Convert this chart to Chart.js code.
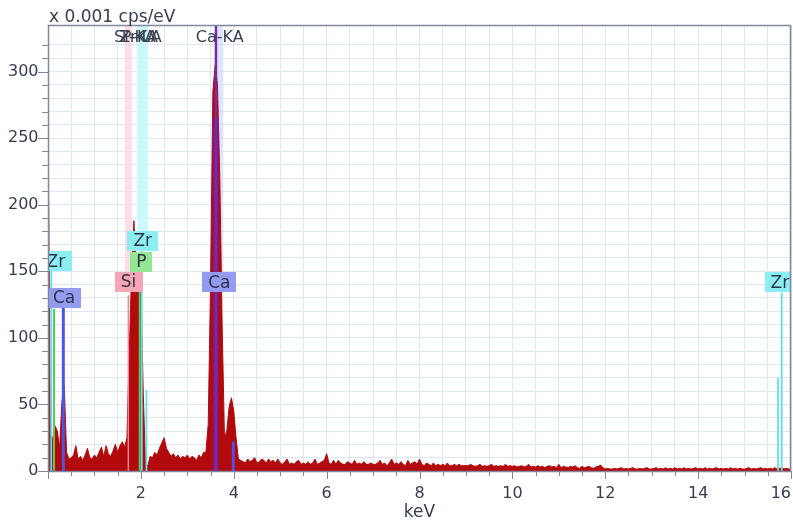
<!DOCTYPE html>
<html>
<head>
<meta charset="utf-8">
<script src="https://cdn.jsdelivr.net/npm/chart.js@4.4.1/dist/chart.umd.min.js"></script>
<style>
html,body{margin:0;padding:0;background:#ffffff;}
#wrap{width:793px;height:523px;position:relative;}
</style>
</head>
<body>
<div id="wrap"><canvas id="c" width="793" height="523"></canvas></div>
<script>
// ---------- data ----------
const xTickLabels = [2, 4, 6, 8, 10, 12, 14, 16];
const yTickLabels = [0, 50, 100, 150, 200, 250, 300];
const yUnitLabel = 'x 0.001 cps/eV';
const xUnitLabel = 'keV';

// spectrum channels every 0.05 keV from 0.00 to 16.00 keV (one row per keV)
const spectrumStepKeV = 0.05;
const spectrumCounts = [
  273,28,24,34,30,17,52,64,14,9, 10,12,19,9,11,8,12,17,10,9,
  12,10,14,18,11,19,13,11,15,20, 14,19,22,18,25,90,150,188,150,145,
  140,60,5,4,11,10,14,12,17,21, 25,17,14,11,13,10,12,9,11,10,
  12,9,11,10,8,12,10,14,14,35, 140,285,305,290,220,110,25,30,48,55,
  45,25,9,8,7,6,9,7,8,10, 6,7,9,8,6,9,7,8,6,9,
  6,5,7,9,5,6,5,7,8,5, 6,5,7,5,6,9,5,6,7,8,
  13,6,5,8,5,8,6,5,5,7, 6,5,8,5,6,5,7,5,5,6,
  5,5,6,8,5,6,4,6,9,5, 6,5,7,5,4,8,5,6,7,5,
  9,5,4,6,5,4,6,4,5,4, 5,4,6,4,4,5,4,5,4,4,
  4,4,5,4,3.5,4,5,3.5,4,3.5, 4,5,3.5,4,3.5,4,3.5,5,3.5,4,
  3.5,4,3,3.5,4,3,3.5,5,3,3.5, 3,4,3,3.5,2.5,3.5,4,3,3.5,2.5,
  5,2.5,3.5,3,2.5,3.5,3,4,2.5,2, 3.5,2.5,3,3.5,2.5,2,3,3.5,4.5,2.5,
  1.5,2,1.5,1.5,2,1.5,2,2.5,1.5,2, 1.5,2,2.5,1.5,1.5,2,1.5,2,2.5,1.5,
  1.5,2,2.5,1.5,2,1.5,2.5,1.5,2,1.5, 2.5,1.5,2,1.5,2.5,1.5,2,1.5,2,2.5,
  1.5,2,1.5,2.5,1.5,2,1.5,2,2.5,1.5, 2,1.5,2,1.5,2.5,1.5,2,1.5,2,1.5,
  1.5,2,2.5,1.5,2,1.5,2,2.5,1.5,2, 1.5,2,1.5,2.5,1.5,2,2.5,1.5,2,1.5,
  1.5
];

// element line markers (energy keV, top in counts)
const markerKeV     = [0.07, 0.13, 0.33, 1.73, 1.975, 2.02, 2.12, 3.61, 3.617, 3.99, 15.72, 15.80];
const markerTop     = [152,  122,  123,  132,  150,   170,  61,   265,  335,   22,   70,    134];
const markerElement = ['Zr', 'P',  'Ca', 'Si', 'P',   'Zr', 'Zr', 'CaFit','CaK','Ca', 'Zr',  'Zr'];

// pale highlight bands hanging from the top line labels
const bandKeV     = [1.733, 2.035, 3.70];
const bandBottom  = [148,   179,   149];
const bandElement = ['Si',  'Zr',  'Ca'];

// boxed element labels
const labelText   = ['Zr', 'Ca', 'Si', 'P', 'Zr', 'Ca', 'Zr'];
const labelKeV    = [0.17, 0.345, 1.733, 2.01, 2.04, 3.69, 15.76];
const labelCounts = [157.5, 130, 142, 157, 173, 141.6, 141.7];

// line names along the top
const topLabelText = ['Si-KA', 'P-KA', 'Zr-LA', 'Ca-KA'];
const topLabelKeV  = [1.87, 1.98, 1.99, 3.70];
const topLabelCounts = 325;
const yMax = 335;

// ---------- styles ----------
const FONT = '"DejaVu Sans", Verdana, sans-serif';
const TEXT_COLOR = '#363d50';
const AXIS_COLOR = '#7f889e';
const GRID_COLOR = '#dfe6f5';
const SPECTRUM_COLOR = '#b20a0a';
const elementStyle = {
  Si:    {label: '#f5a5b5', line: '#f0849a', width: 1.5, band: 'rgba(255,212,226,0.8)', bandWidth: 7},
  P:     {label: '#93e693', line: '#5cc85c', width: 2},
  Zr:    {label: '#8aeef2', line: '#62e2e8', width: 1.8, band: 'rgba(198,250,252,0.9)', bandWidth: 11},
  Ca:    {label: '#939cf0', line: '#4f52e6', width: 3, band: 'rgba(212,222,250,0.8)', bandWidth: 7},
  CaFit: {line: 'rgba(85,40,220,0.5)', width: 6},
  CaK:   {line: '#7a2aa8', width: 2.5}
};

// ---------- datasets ----------
const datasets = [];
bandKeV.forEach((e, i) => {
  const st = elementStyle[bandElement[i]];
  datasets.push({
    data: [{x: e, y: bandBottom[i]}, {x: e, y: yMax}],
    borderColor: st.band, borderWidth: st.bandWidth, pointRadius: 0, fill: false,
    order: 300 - i, borderCapStyle: 'butt'
  });
});
datasets.push({
  data: spectrumCounts.map((c, i) => ({x: +(i * spectrumStepKeV).toFixed(2), y: c})),
  borderColor: SPECTRUM_COLOR, backgroundColor: SPECTRUM_COLOR, borderWidth: 1,
  pointRadius: 0, fill: 'origin', tension: 0, order: 200
});
markerKeV.forEach((e, i) => {
  const st = elementStyle[markerElement[i]];
  datasets.push({
    data: [{x: e, y: 0}, {x: e, y: markerTop[i]}],
    borderColor: st.line, borderWidth: st.width, pointRadius: 0, fill: false,
    order: 100 - i, borderCapStyle: 'butt'
  });
});

// ---------- plugins ----------
const frameAndTicks = {
  id: 'frameAndTicks',
  afterDraw(chart) {
    const {ctx, chartArea: a, scales: {x, y}} = chart;
    ctx.save();
    ctx.strokeStyle = AXIS_COLOR;
    ctx.lineWidth = 1;
    ctx.beginPath();
    x.ticks.forEach(t => {
      const px = Math.round(x.getPixelForValue(t.value)) + 0.5;
      const len = (t.value % 2 === 0) ? 8 : 5;
      ctx.moveTo(px, a.bottom); ctx.lineTo(px, a.bottom + len);
    });
    y.ticks.forEach(t => {
      if (t.value % 10 !== 0) return;
      const py = Math.round(y.getPixelForValue(t.value)) + 0.5;
      const len = (t.value % 50 === 0) ? 10 : 6;
      ctx.moveTo(a.left - len, py); ctx.lineTo(a.left, py);
    });
    ctx.stroke();
    ctx.lineWidth = 1.5;
    ctx.strokeRect(a.left + 0.5, a.top + 0.5, a.right - a.left - 1, a.bottom - a.top);
    ctx.fillStyle = TEXT_COLOR;
    ctx.font = '17px ' + FONT;
    ctx.textAlign = 'left';
    ctx.textBaseline = 'alphabetic';
    ctx.fillText(yUnitLabel, a.left + 1, 21.5);
    ctx.restore();
  }
};

const elementLabels = {
  id: 'elementLabels',
  afterDatasetsDraw(chart) {
    const {ctx, chartArea: a, scales: {x, y}} = chart;
    ctx.save();
    ctx.beginPath();
    ctx.rect(a.left, a.top, a.right - a.left, a.bottom - a.top);
    ctx.clip();
    ctx.font = '17px ' + FONT;
    ctx.textAlign = 'center';
    ctx.textBaseline = 'middle';
    labelText.forEach((t, i) => {
      const cx = x.getPixelForValue(labelKeV[i]);
      const cy = y.getPixelForValue(labelCounts[i]);
      const w = ctx.measureText(t).width + 12, h = 20;
      ctx.fillStyle = elementStyle[t].label;
      ctx.fillRect(Math.round(cx - w / 2), Math.round(cy - h / 2), Math.round(w), h);
      ctx.fillStyle = '#2e3445';
      ctx.fillText(t, cx, cy + 1);
    });
    ctx.font = '16px ' + FONT;
    ctx.fillStyle = '#3a4152';
    topLabelText.forEach((t, i) => {
      ctx.fillText(t, x.getPixelForValue(topLabelKeV[i]), y.getPixelForValue(topLabelCounts));
    });
    ctx.restore();
  }
};

new Chart(document.getElementById('c'), {
  type: 'line',
  data: {datasets},
  options: {
    responsive: false,
    animation: false,
    devicePixelRatio: 1,
    layout: {padding: {left: 0, right: 2, top: 25, bottom: 0}},
    plugins: {legend: {display: false}, tooltip: {enabled: false}, title: {display: false}},
    elements: {line: {borderJoinStyle: 'miter'}},
    scales: {
      x: {
        type: 'linear', min: 0, max: 16,
        afterFit(s) { s.height = 52; s.paddingLeft = 0; s.paddingRight = 0; },
        ticks: {
          stepSize: 0.5, autoSkip: false, maxRotation: 0, padding: 13, align: 'inner',
          color: TEXT_COLOR, font: {family: FONT, size: 16},
          callback: v => xTickLabels.includes(v) ? String(v) : ''
        },
        grid: {color: GRID_COLOR, drawTicks: false, lineWidth: 1},
        border: {display: false},
        title: {display: true, text: xUnitLabel, color: TEXT_COLOR,
                font: {family: FONT, size: 17}, padding: {top: 0, bottom: 0}}
      },
      y: {
        type: 'linear', min: 0, max: yMax,
        afterFit(s) { s.width = 48; s.paddingTop = 0; s.paddingBottom = 0; },
        ticks: {
          stepSize: 10, autoSkip: false, padding: 9.5,
          color: TEXT_COLOR, font: {family: FONT, size: 16},
          callback: v => yTickLabels.includes(v) ? String(v) : ''
        },
        grid: {color: GRID_COLOR, drawTicks: false, lineWidth: 1},
        border: {display: false}
      }
    }
  },
  plugins: [frameAndTicks, elementLabels]
});
</script>
</body>
</html>
